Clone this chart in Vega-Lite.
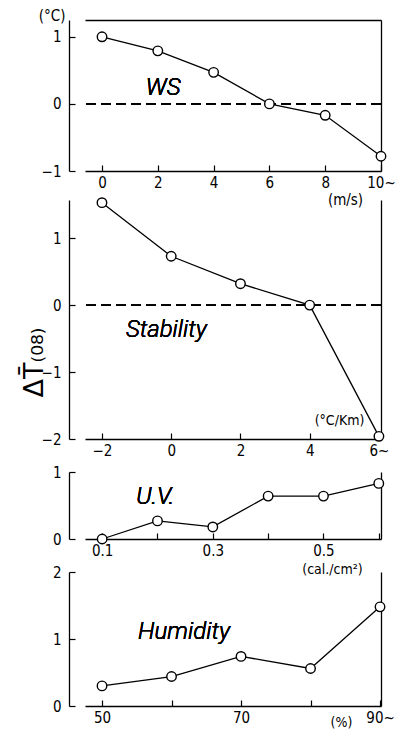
{
  "$schema": "https://vega.github.io/schema/vega-lite/v6.json",
  "padding": {"left": 20, "top": 8, "right": 0, "bottom": 0},
  "background": "white",
  "datasets": {
    "ws": [
      {"x": 0, "y": 1.0}, {"x": 2, "y": 0.79}, {"x": 4, "y": 0.47},
      {"x": 6, "y": 0.0}, {"x": 8, "y": -0.17}, {"x": 10, "y": -0.78}
    ],
    "stab": [
      {"x": -2, "y": 1.53}, {"x": 0, "y": 0.73}, {"x": 2, "y": 0.32},
      {"x": 4, "y": 0.0}, {"x": 6, "y": -1.96}
    ],
    "uv": [
      {"x": 0.1, "y": 0.0}, {"x": 0.2, "y": 0.27}, {"x": 0.3, "y": 0.18},
      {"x": 0.4, "y": 0.64}, {"x": 0.5, "y": 0.64}, {"x": 0.6, "y": 0.83}
    ],
    "hum": [
      {"x": 50, "y": 0.30}, {"x": 60, "y": 0.44}, {"x": 70, "y": 0.74},
      {"x": 80, "y": 0.56}, {"x": 90, "y": 1.48}
    ]
  },
  "bounds": "flush",
  "spacing": 29,
  "vconcat": [
    {
      "width": 296,
      "height": 151,
      "data": {"name": "ws"},
      "resolve": {"axis": {"x": "independent", "y": "independent"}},
      "layer": [
        {
          "mark": {"type": "rule", "strokeDash": [10, 5], "strokeWidth": 1.2, "color": "black"},
          "encoding": {"y": {"datum": 0, "type": "quantitative", "scale": {"domain": [-1, 1.25]}, "axis": null}}
        },
        {
          "mark": {"type": "line", "color": "black", "strokeWidth": 1.3},
          "encoding": {
            "x": {"field": "x", "type": "quantitative", "scale": {"domain": [-0.61, 10], "nice": false},
                  "axis": {"values": [0, 2, 4, 6, 8, 10], "labelExpr": "datum.value == 10 ? '10~' : datum.label",
                           "title": "(m/s)", "titleFontSize": 15, "titleX": 260, "titleY": 28, "titleAnchor": null, "titleAlign": "center", "titleBaseline": "middle"}},
            "y": {"field": "y", "type": "quantitative", "scale": {"domain": [-1, 1.25], "nice": false},
                  "axis": {"values": [-1, 0, 1], "format": "d", "offset": 16, "title": "(°C)", "titleFontSize": 15, "titleAngle": 0, "titleX": -4, "titleY": -5,
                           "titleAlign": "right", "titleBaseline": "middle", "titleAnchor": null}}
          }
        },
        {
          "mark": {"type": "point", "shape": "circle", "filled": true, "fill": "white", "stroke": "black", "strokeWidth": 1.4, "size": 90, "opacity": 1},
          "encoding": {
            "x": {"field": "x", "type": "quantitative", "axis": {"orient": "top", "labels": false, "ticks": false, "title": null}},
            "y": {"field": "y", "type": "quantitative", "axis": {"orient": "right", "labels": false, "ticks": false, "title": null}}
          }
        },
        {
          "mark": {"type": "text", "fontSize": 24, "fontStyle": "italic", "fontWeight": 300, "font": "Roboto", "align": "center", "baseline": "middle"},
          "encoding": {
            "x": {"datum": 2.19, "type": "quantitative", "axis": null},
            "y": {"datum": 0.24, "type": "quantitative", "axis": null},
            "text": {"value": "WS"}
          }
        }
      ]
    },
    {
      "bounds": "flush",
      "spacing": 33,
      "vconcat": [
        {
          "width": 296,
          "height": 239,
          "data": {"name": "stab"},
          "resolve": {"axis": {"x": "independent", "y": "independent"}},
          "layer": [
            {
              "mark": {"type": "rule", "strokeDash": [10, 5], "strokeWidth": 1.2, "color": "black"},
              "encoding": {"y": {"datum": 0, "type": "quantitative", "scale": {"domain": [-2, 1.57]}, "axis": null}}
            },
            {
              "mark": {"type": "line", "color": "black", "strokeWidth": 1.3},
              "encoding": {
                "x": {"field": "x", "type": "quantitative", "scale": {"domain": [-2.49, 6.06], "nice": false},
                      "axis": {"values": [-2, 0, 2, 4, 6], "labelExpr": "datum.value == 6 ? '6~' : datum.label",
                               "title": "(°C/Km)", "titleX": 254, "titleY": -19, "titleAnchor": null, "titleAlign": "center", "titleBaseline": "middle"}},
                "y": {"field": "y", "type": "quantitative", "scale": {"domain": [-2, 1.57], "nice": false},
                      "axis": {"values": [-2, -1, 0, 1], "format": "d", "offset": 16, "title": "ΔT̄₍₀₈₎", "titleFont": "DejaVu Sans",
                               "titleFontSize": 27, "titleAnchor": null, "titleX": -27, "titleY": 162,
                               "titleAngle": 270, "titleAlign": "center", "titleBaseline": "alphabetic"}}
              }
            },
            {
              "mark": {"type": "point", "shape": "circle", "filled": true, "fill": "white", "stroke": "black", "strokeWidth": 1.4, "size": 90, "opacity": 1},
              "encoding": {
                "x": {"field": "x", "type": "quantitative", "axis": null},
                "y": {"field": "y", "type": "quantitative", "axis": {"orient": "right", "labels": false, "ticks": false, "title": null}}
              }
            },
            {
              "mark": {"type": "text", "fontSize": 24, "fontStyle": "italic", "fontWeight": 300, "font": "Roboto", "align": "center", "baseline": "middle"},
              "encoding": {
                "x": {"datum": -0.14, "type": "quantitative", "axis": null},
                "y": {"datum": -0.37, "type": "quantitative", "axis": null},
                "text": {"value": "Stability"}
              }
            }
          ]
        },
        {
          "bounds": "flush",
          "spacing": 33,
          "vconcat": [
            {
              "width": 296,
              "height": 67,
              "data": {"name": "uv"},
              "resolve": {"axis": {"x": "independent", "y": "independent"}},
              "layer": [
                {
                  "mark": {"type": "line", "color": "black", "strokeWidth": 1.3},
                  "encoding": {
                    "x": {"field": "x", "type": "quantitative", "scale": {"domain": [0.069, 0.604], "nice": false},
                          "axis": {"values": [0.1, 0.2, 0.3, 0.4, 0.5, 0.6],
                                   "labelExpr": "(datum.value == 0.1 || datum.value == 0.3 || datum.value == 0.5) ? datum.label : ''",
                                   "title": "(cal./cm²)", "titleX": 247, "titleY": 30, "titleAnchor": null, "titleAlign": "center", "titleBaseline": "middle"}},
                    "y": {"field": "y", "type": "quantitative", "scale": {"domain": [0, 1], "nice": false},
                          "axis": {"values": [0, 1], "labelExpr": "'' + datum.value", "offset": 16, "title": null}}
                  }
                },
                {
                  "mark": {"type": "point", "shape": "circle", "filled": true, "fill": "white", "stroke": "black", "strokeWidth": 1.4, "size": 90, "opacity": 1},
                  "encoding": {
                    "x": {"field": "x", "type": "quantitative", "axis": null},
                    "y": {"field": "y", "type": "quantitative", "axis": {"orient": "right", "labels": false, "ticks": false, "title": null}}
                  }
                },
                {
                  "mark": {"type": "text", "fontSize": 24, "fontStyle": "italic", "fontWeight": 300, "font": "Roboto", "align": "center", "baseline": "middle"},
                  "encoding": {
                    "x": {"datum": 0.196, "type": "quantitative", "axis": null},
                    "y": {"datum": 0.63, "type": "quantitative", "axis": null},
                    "text": {"value": "U.V."}
                  }
                }
              ]
            },
            {
              "width": 296,
              "height": 134,
              "data": {"name": "hum"},
              "resolve": {"axis": {"x": "independent", "y": "independent"}},
              "layer": [
                {
                  "mark": {"type": "line", "color": "black", "strokeWidth": 1.3},
                  "encoding": {
                    "x": {"field": "x", "type": "quantitative", "scale": {"domain": [47.55, 90.14], "nice": false},
                          "axis": {"values": [50, 60, 70, 80, 90],
                                   "labelExpr": "datum.value == 90 ? '90~' : (datum.value == 50 || datum.value == 70) ? datum.label : ''",
                                   "title": "(%)", "titleX": 256, "titleY": 16, "titleAnchor": null, "titleAlign": "center", "titleBaseline": "middle"}},
                    "y": {"field": "y", "type": "quantitative", "scale": {"domain": [0, 2], "nice": false},
                          "axis": {"values": [0, 1, 2], "labelExpr": "'' + datum.value", "offset": 16, "title": null}}
                  }
                },
                {
                  "mark": {"type": "point", "shape": "circle", "filled": true, "fill": "white", "stroke": "black", "strokeWidth": 1.4, "size": 90, "opacity": 1},
                  "encoding": {
                    "x": {"field": "x", "type": "quantitative", "axis": null},
                    "y": {"field": "y", "type": "quantitative", "axis": {"orient": "right", "labels": false, "ticks": false, "title": null}}
                  }
                },
                {
                  "mark": {"type": "text", "fontSize": 24, "fontStyle": "italic", "fontWeight": 300, "font": "Roboto", "align": "center", "baseline": "middle"},
                  "encoding": {
                    "x": {"datum": 61.8, "type": "quantitative", "axis": null},
                    "y": {"datum": 1.10, "type": "quantitative", "axis": null},
                    "text": {"value": "Humidity"}
                  }
                }
              ]
            }
          ]
        }
      ]
    }
  ],
  "config": {
    "view": {"stroke": null},
    "font": "Liberation Sans Narrow, DejaVu Sans Condensed, sans-serif",
    "axis": {
      "grid": false,
      "domainColor": "black",
      "domainWidth": 1.3,
      "tickColor": "black",
      "tickWidth": 1.2,
      "tickSize": -6,
      "labelColor": "black",
      "labelFont": "Liberation Sans Narrow, DejaVu Sans Condensed, sans-serif",
      "labelFontSize": 15,
      "labelOverlap": false,
      "labelFlush": false,
      "titleColor": "black",
      "titleFont": "Liberation Sans Narrow, DejaVu Sans Condensed, sans-serif",
      "titleFontSize": 14,
      "titleFontWeight": "normal"
    },
    "axisX": {"labelPadding": 10},
    "axisY": {"labelPadding": 14}
  }
}
